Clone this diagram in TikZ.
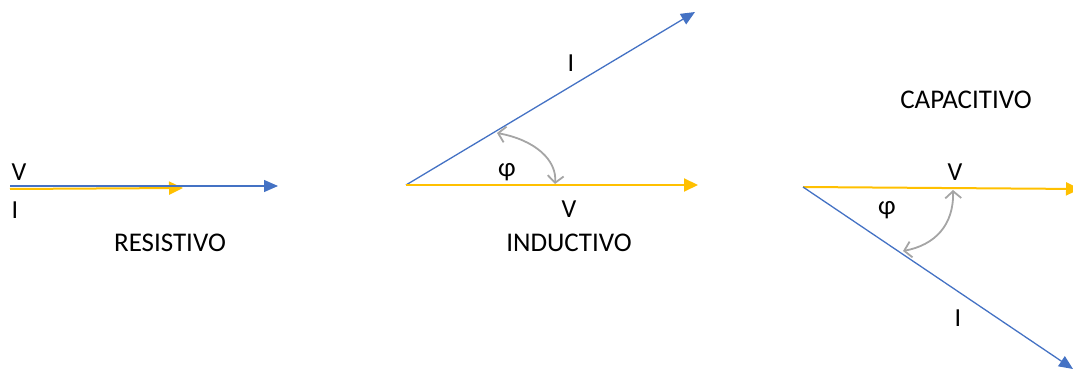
\documentclass[tikz,border=0pt]{standalone}
\usepackage{fontspec}
\setmainfont{Carlito}
\usetikzlibrary{arrows.meta}
\definecolor{azul}{HTML}{4472C4}
\definecolor{amarelo}{HTML}{FFC000}
\definecolor{cinza}{HTML}{A5A5A5}
\begin{document}
\begin{tikzpicture}[x=1pt,y=-1pt]
        \tikzstyle{fasor_i} = [draw=azul, line width=1.3pt, -{Triangle[length=14pt,width=12pt]}]
        \tikzstyle{fasor_v} = [draw=amarelo, line width=2pt, -{Triangle[length=14pt,width=13pt]}]
        \tikzstyle{angulo} = [draw=cinza, line width=1.8pt, {Straight Barb[length=7pt,width=16pt]}-{Straight Barb[length=7pt,width=16pt]}]
        \tikzstyle{rotulo} = [inner sep=0pt, font=\fontsize{26}{30}\selectfont]
        \tikzstyle{simbolo} = [inner sep=0pt, font=\fontsize{27}{30}\selectfont]
        \tikzstyle{titulo} = [inner sep=0pt, font=\fontsize{27}{31}\selectfont]
        \useasboundingbox (0,0) rectangle (1073,371);
        % resistivo
        \coordinate (res_o) at (10,186);
        \coordinate (res_i) at (278,186);
        \coordinate (res_v_o) at (10,189);
        \coordinate (res_v) at (183,188);
        \draw[fasor_v] (res_v_o) -- (res_v);
        \draw[fasor_i] (res_o) -- (res_i);
        \node (res_lbl_v) [rotulo] at (19,172) {V};
        \node (res_lbl_i) [rotulo] at (15,210) {I};
        \node (res_titulo) [titulo] at (170,243) {RESISTIVO};
        % indutivo
        \coordinate (ind_o) at (406,185);
        \coordinate (ind_i) at (695,12);
        \coordinate (ind_v) at (698,185);
        \coordinate (ind_a) at (497,133);
        \coordinate (ind_b) at (555,184);
        \draw[fasor_i] (ind_o) -- (ind_i);
        \draw[fasor_v] (ind_o) -- (ind_v);
        \draw[angulo] (ind_a) .. controls (535,140) and (557,160) .. (ind_b);
        \node (ind_lbl_i) [rotulo] at (571,63) {I};
        \node (ind_lbl_phi) [simbolo] at (507,172) {φ};
        \node (ind_lbl_v) [rotulo] at (569,209) {V};
        \node (ind_titulo) [titulo] at (569,243) {INDUCTIVO};
        % capacitivo
        \coordinate (cap_o) at (803,187);
        \coordinate (cap_v) at (1080,189);
        \coordinate (cap_i) at (1073,369);
        \coordinate (cap_a) at (903,251);
        \coordinate (cap_b) at (953,190);
        \draw[fasor_v] (cap_o) -- (cap_v);
        \draw[fasor_i] (cap_o) -- (cap_i);
        \draw[angulo] (cap_a) .. controls (935,245) and (954,225) .. (cap_b);
        \node (cap_titulo) [titulo] at (966,100) {CAPACITIVO};
        \node (cap_lbl_v) [rotulo] at (955,172) {V};
        \node (cap_lbl_phi) [simbolo] at (887,210) {φ};
        \node (cap_lbl_i) [rotulo] at (958,318) {I};
    \end{tikzpicture}
\end{document}
